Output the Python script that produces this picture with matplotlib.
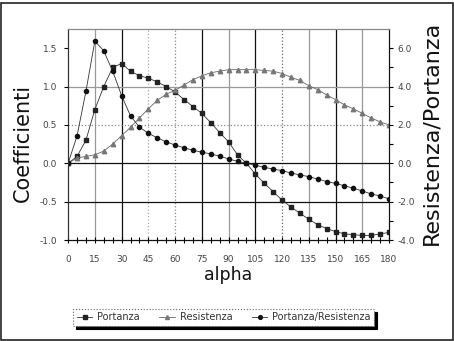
import numpy as np
import matplotlib.pyplot as plt
from matplotlib.patches import Rectangle

# angolo di attacco (gradi)
alpha = list(range(0, 185, 5))

portanza = [0.0, 0.09, 0.30, 0.70, 1.00, 1.25, 1.30, 1.20, 1.14, 1.11,
            1.06, 1.00, 0.93, 0.83, 0.74, 0.65, 0.53, 0.40, 0.28, 0.11,
            0.0, -0.14, -0.26, -0.37, -0.48, -0.57, -0.65, -0.73, -0.80, -0.85,
            -0.89, -0.92, -0.93, -0.94, -0.94, -0.92, -0.90]

resistenza = [0.0, 0.07, 0.09, 0.11, 0.16, 0.25, 0.36, 0.47, 0.59, 0.71,
              0.82, 0.90, 0.95, 1.02, 1.09, 1.14, 1.18, 1.20, 1.22, 1.22,
              1.22, 1.22, 1.21, 1.20, 1.17, 1.12, 1.08, 1.01, 0.96, 0.89,
              0.83, 0.76, 0.71, 0.65, 0.59, 0.54, 0.50]

rapporto = [0.0, 1.42, 3.75, 6.37, 5.86, 4.80, 3.53, 2.47, 1.89, 1.56,
            1.33, 1.12, 0.95, 0.81, 0.68, 0.58, 0.49, 0.37, 0.23, 0.10,
            0.0, -0.10, -0.21, -0.30, -0.38, -0.51, -0.60, -0.70, -0.82, -0.95,
            -1.05, -1.17, -1.30, -1.44, -1.60, -1.70, -1.86]

x_ticks = list(range(0, 195, 15))
y_ticks = [-1.0, -0.5, 0.0, 0.5, 1.0, 1.5]
y2_ticks = [-4.0, -2.0, 0.0, 2.0, 4.0, 6.0]

fig = plt.figure(figsize=(4.54, 3.41), dpi=100)
fig.patch.set_facecolor('white')
fig.patches.append(Rectangle((0.002, 0.002), 0.995, 0.99, transform=fig.transFigure,
                             fill=False, edgecolor='#222222', linewidth=1.2))

ax = fig.add_axes([0.150, 0.296, 0.707, 0.619])
ax2 = ax.twinx()

# griglia verticale
vstyle = {15: ('#999999', '-'), 30: ('#111111', '-'), 45: ('#aaaaaa', ':'),
          60: ('#888888', ':'), 75: ('#111111', '-'), 90: ('#999999', '-'),
          105: ('#111111', '-'), 120: ('#666666', ':'), 135: ('#999999', '-'),
          150: ('#111111', '-'), 165: ('#999999', '-')}
for xv, (c, ls) in vstyle.items():
    ax.axvline(xv, color=c, linestyle=ls, linewidth=0.9, zorder=0)
hstyle = {1.0: ('#999999', '-'), 0.5: ('#888888', ':'), 0.0: ('#111111', '-'),
          -0.5: ('#111111', '-')}
for yv, (c, ls) in hstyle.items():
    ax.axhline(yv, color=c, linestyle=ls, linewidth=0.9, zorder=0)

l1, = ax.plot(alpha, portanza, color='#333333', linewidth=0.6, marker='s',
              markersize=3.2, markerfacecolor='#222222', markeredgecolor='#222222',
              label='Portanza')
l2, = ax.plot(alpha, resistenza, color='#666666', linewidth=0.6, marker='^',
              markersize=3.2, markerfacecolor='#777777', markeredgecolor='#777777',
              label='Resistenza')
l3, = ax2.plot(alpha, rapporto, color='#333333', linewidth=0.6, marker='o',
               markersize=3.0, markerfacecolor='#111111', markeredgecolor='#111111',
               label='Portanza/Resistenza')

ax.set_xlim(0, 180)
ax.set_ylim(-1.0, 1.75)
ax2.set_ylim(-4.0, 7.0)

ax.set_xticks(x_ticks)
ax.set_xticks(range(0, 185, 5), minor=True)
ax.set_yticks(y_ticks)
ax.set_yticklabels([f'{v:.1f}' for v in y_ticks])
ax2.set_yticks(y2_ticks)
ax2.set_yticks([-3, -1, 1, 3, 5], minor=True)
ax2.set_yticklabels([f'{v:.1f}' for v in y2_ticks])

ax.tick_params(axis='x', which='both', direction='inout', length=5, width=0.8,
               labelsize=6.5, labelcolor='#444444', pad=8)
ax.tick_params(axis='y', direction='out', length=3, width=0.8,
               labelsize=6.5, labelcolor='#444444', pad=5)
ax2.tick_params(axis='y', which='both', direction='out', length=3, width=0.8,
                labelsize=6.5, labelcolor='#444444', pad=3)

for a in (ax, ax2):
    a.spines['top'].set_color('#888888')
    a.spines['left'].set_color('#333333')
    a.spines['right'].set_color('#111111')
    a.spines['bottom'].set_color('#111111')

ax.set_xlabel('alpha', fontsize=12.5, color='#111111', labelpad=2)
ax.set_ylabel('Coefficienti', fontsize=15, color='#111111')
ax.yaxis.set_label_coords(-0.109, 0.46)
ax2.set_ylabel('Resistenza/Portanza', fontsize=16, color='#111111')
ax2.yaxis.set_label_coords(1.100, 0.51)

leg = fig.legend(handles=[l1, l2, l3], loc='center', bbox_to_anchor=(0.493, 0.069),
                 ncol=3, fontsize=7, frameon=True, fancybox=False,
                 shadow={'facecolor': 'black', 'edgecolor': 'black', 'alpha': 1,
                         'linestyle': '-'},
                 handlelength=1.6, handletextpad=0.5, columnspacing=2.0,
                 borderpad=0.35, markerscale=0.9)
leg.get_frame().set_edgecolor('#666666')
leg.get_frame().set_linestyle(':')
leg.get_frame().set_linewidth(0.8)
for t in leg.get_texts():
    t.set_color('#333333')

fig.savefig('out.png', dpi=100)
